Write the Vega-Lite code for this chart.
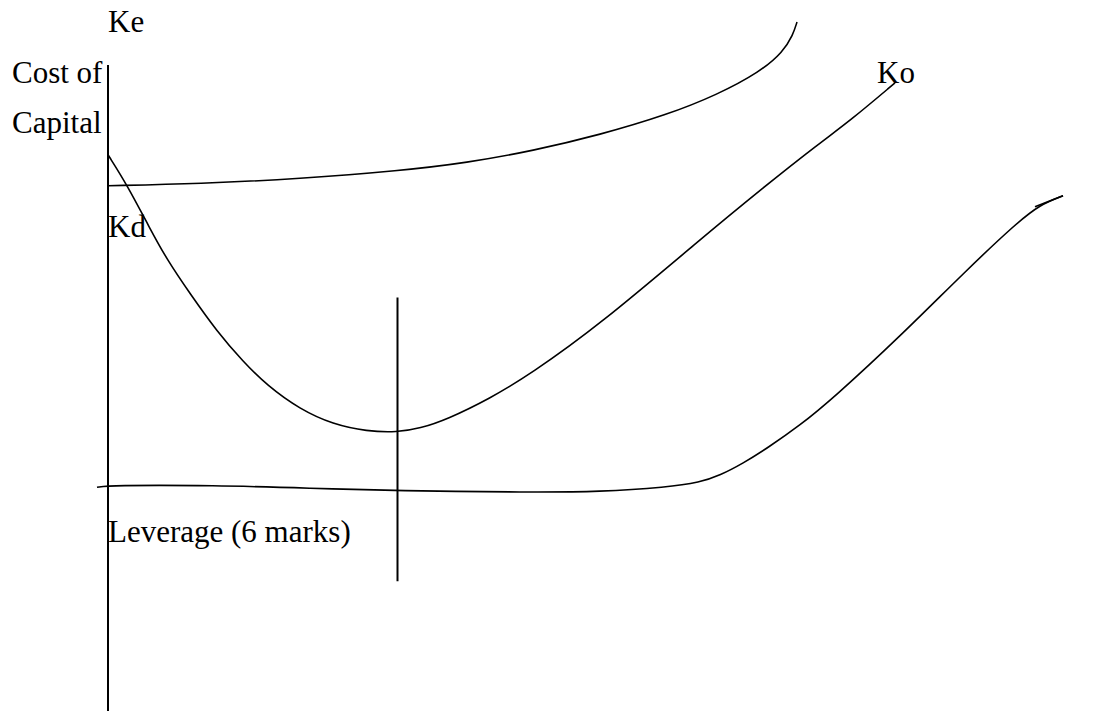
{
  "$schema": "https://vega.github.io/schema/vega-lite/v6.json",
  "width": 1094,
  "height": 712,
  "autosize": {"type": "fit", "contains": "padding"},
  "padding": 0,
  "background": "white",
  "config": {"view": {"stroke": null}},
  "datasets": {
    "curves": [
      {"curve": "Ke", "x": 108, "y": 186},
      {"curve": "Ke", "x": 200, "y": 184},
      {"curve": "Ke", "x": 300, "y": 179},
      {"curve": "Ke", "x": 400, "y": 171},
      {"curve": "Ke", "x": 467, "y": 163},
      {"curve": "Ke", "x": 533, "y": 151},
      {"curve": "Ke", "x": 600, "y": 135},
      {"curve": "Ke", "x": 667, "y": 115},
      {"curve": "Ke", "x": 717, "y": 95},
      {"curve": "Ke", "x": 760, "y": 72},
      {"curve": "Ke", "x": 783, "y": 52},
      {"curve": "Ke", "x": 793, "y": 35},
      {"curve": "Ke", "x": 797, "y": 22},
      {"curve": "Ko", "x": 108, "y": 155},
      {"curve": "Ko", "x": 127, "y": 185},
      {"curve": "Ko", "x": 150, "y": 229},
      {"curve": "Ko", "x": 167, "y": 260},
      {"curve": "Ko", "x": 190, "y": 294},
      {"curve": "Ko", "x": 217, "y": 332},
      {"curve": "Ko", "x": 243, "y": 362},
      {"curve": "Ko", "x": 267, "y": 386},
      {"curve": "Ko", "x": 300, "y": 410},
      {"curve": "Ko", "x": 333, "y": 425},
      {"curve": "Ko", "x": 367, "y": 432},
      {"curve": "Ko", "x": 397, "y": 433},
      {"curve": "Ko", "x": 420, "y": 429},
      {"curve": "Ko", "x": 447, "y": 420},
      {"curve": "Ko", "x": 490, "y": 399},
      {"curve": "Ko", "x": 530, "y": 375},
      {"curve": "Ko", "x": 600, "y": 325},
      {"curve": "Ko", "x": 700, "y": 240},
      {"curve": "Ko", "x": 763, "y": 188},
      {"curve": "Ko", "x": 820, "y": 143},
      {"curve": "Ko", "x": 850, "y": 121},
      {"curve": "Ko", "x": 895, "y": 83},
      {"curve": "Kd", "x": 97, "y": 488},
      {"curve": "Kd", "x": 110, "y": 486},
      {"curve": "Kd", "x": 213, "y": 486},
      {"curve": "Kd", "x": 313, "y": 489},
      {"curve": "Kd", "x": 397, "y": 491.5},
      {"curve": "Kd", "x": 530, "y": 493},
      {"curve": "Kd", "x": 600, "y": 492.5},
      {"curve": "Kd", "x": 667, "y": 488},
      {"curve": "Kd", "x": 700, "y": 483},
      {"curve": "Kd", "x": 720, "y": 476},
      {"curve": "Kd", "x": 743, "y": 464},
      {"curve": "Kd", "x": 767, "y": 449},
      {"curve": "Kd", "x": 800, "y": 426},
      {"curve": "Kd", "x": 833, "y": 399},
      {"curve": "Kd", "x": 900, "y": 337},
      {"curve": "Kd", "x": 967, "y": 270},
      {"curve": "Kd", "x": 1017, "y": 223},
      {"curve": "Kd", "x": 1040, "y": 205},
      {"curve": "Kd", "x": 1063, "y": 196},
      {"curve": "hook", "x": 1035, "y": 207},
      {"curve": "hook", "x": 1063, "y": 196}
    ],
    "rules": [
      {"name": "axis", "x": 108, "y": 65, "y2": 712},
      {"name": "optimum", "x": 397.5, "y": 298, "y2": 582}
    ],
    "labels": [
      {"text": "Ke", "x": 108, "y": 32},
      {"text": "Cost of", "x": 12, "y": 83},
      {"text": "Capital", "x": 12, "y": 133},
      {"text": "Ko", "x": 877, "y": 83},
      {"text": "Kd", "x": 108, "y": 237},
      {"text": "Leverage (6 marks)", "x": 108, "y": 543}
    ]
  },
  "encoding": {
    "x": {"field": "x", "type": "quantitative", "scale": {"domain": [0, 1094], "nice": false, "zero": false}, "axis": null},
    "y": {"field": "y", "type": "quantitative", "scale": {"domain": [0, 712], "reverse": true, "nice": false, "zero": false}, "axis": null}
  },
  "layer": [
    {
      "data": {"name": "rules"},
      "mark": {"type": "rule", "color": "black", "strokeWidth": 2},
      "encoding": {
        "y2": {"field": "y2"}
      }
    },
    {
      "data": {"name": "curves"},
      "mark": {"type": "line", "color": "black", "strokeWidth": 1.6, "interpolate": "basis"},
      "encoding": {
        "detail": {"field": "curve", "type": "nominal"}
      }
    },
    {
      "data": {"name": "labels"},
      "mark": {"type": "text", "font": "Liberation Serif", "fontSize": 31, "align": "left", "baseline": "alphabetic", "color": "black"},
      "encoding": {
        "text": {"field": "text", "type": "nominal"}
      }
    }
  ]
}
